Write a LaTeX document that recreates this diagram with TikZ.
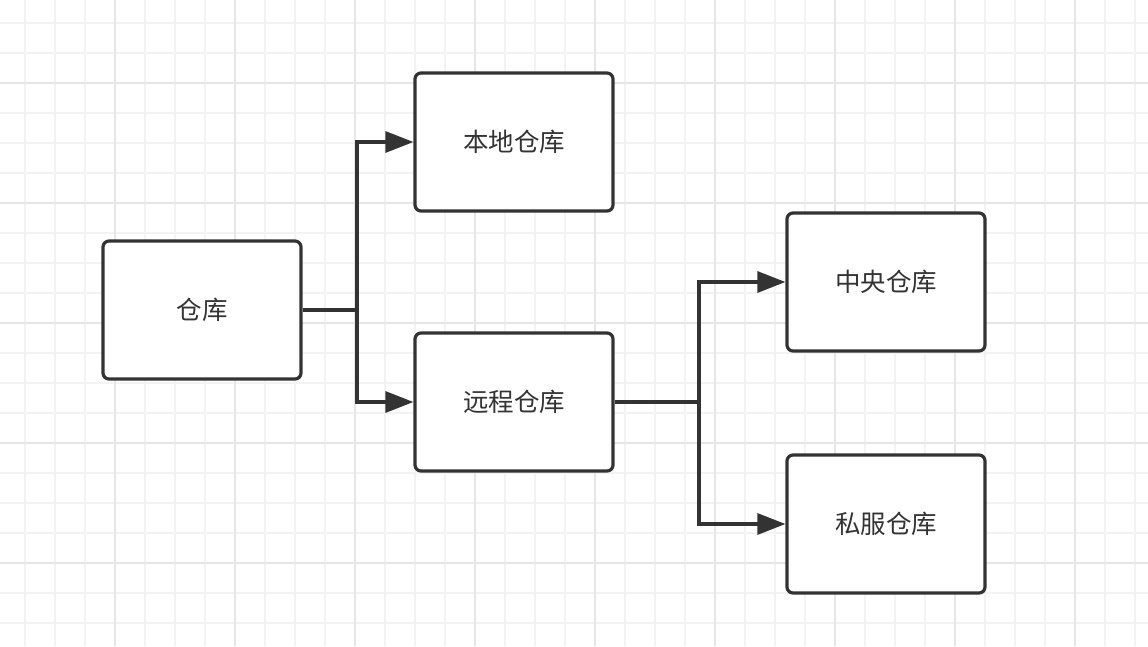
\documentclass[tikz,border=0pt]{standalone}
\usepackage{fontspec}
\newfontfamily\cjk{Noto Sans CJK SC}
\usetikzlibrary{arrows.meta}
\definecolor{ink}{HTML}{333333}
\definecolor{gridlo}{HTML}{F3F3F3}
\definecolor{gridhi}{HTML}{E6E6E6}
\tikzset{
  cangbox/.style={draw=ink, line width=3.2pt, fill=white, rounded corners=6pt,
    minimum width=198pt, minimum height=138pt, inner sep=0pt,
    font=\cjk\fontsize{25.5}{30}\selectfont, text=ink},
  link/.style={draw=ink, line width=3.2pt},
  arrowlink/.style={link, -{Triangle[length=28pt,width=21pt]}},
  gridminor/.style={gridlo, line width=1.6pt},
  gridmajor/.style={gridhi, line width=1.8pt}
}
\begin{document}
\begin{tikzpicture}[x=1pt,y=-1pt]
        \useasboundingbox (0,0) rectangle (1148,646);
        \fill[white] (0,0) rectangle (1148,646);
        % grid
        \foreach \x in {25,55,...,1145} \draw[gridminor] (\x,0) -- (\x,646);
        \foreach \y in {23,53,...,643} \draw[gridminor] (0,\y) -- (1148,\y);
        \foreach \x in {115,235,...,1075} \draw[gridmajor] (\x,0) -- (\x,646);
        \foreach \y in {83,203,...,563} \draw[gridmajor] (0,\y) -- (1148,\y);
        % boxes
        \node[cangbox] (cangku) at (202,310) {仓库};
        \node[cangbox] (bendi) at (514,142) {本地仓库};
        \node[cangbox] (yuancheng) at (514,402) {远程仓库};
        \node[cangbox] (zhongyang) at (886,282) {中央仓库};
        \node[cangbox] (sifu) at (886,524) {私服仓库};
        % links
        \coordinate (fork1) at (357,310);
        \coordinate (fork2) at (699,402);
        \draw[link] (cangku.east) -- (fork1);
        \draw[arrowlink] (fork1) |- (bendi.west);
        \draw[arrowlink] (fork1) |- (yuancheng.west);
        \draw[link] (yuancheng.east) -- (fork2);
        \draw[arrowlink] (fork2) |- (zhongyang.west);
        \draw[arrowlink] (fork2) |- (sifu.west);
\end{tikzpicture}
\end{document}
